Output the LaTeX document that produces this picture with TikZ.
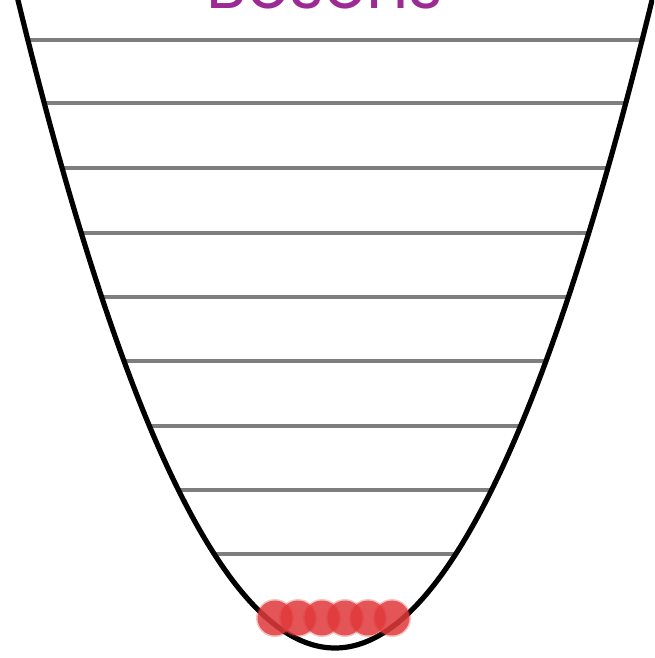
\documentclass[tikz,border=0pt]{standalone}
\usepackage{fontspec}
\newfontfamily\titlefont{Poppins}
\usetikzlibrary{positioning}
\definecolor{bosonpurple}{HTML}{9B2A94}
\definecolor{levelgray}{HTML}{7E7E7E}
\definecolor{bosonred}{HTML}{E0393B}

\begin{document}
\begin{tikzpicture}[
    x=1pt, y=-1pt, % coordenadas en "pixeles", y hacia abajo
    % Estilos
    well/.style={line width=5.2pt, color=black, line cap=round},
    level/.style={line width=3.2pt, color=levelgray},
    boson/.style={
        circle, fill=bosonred, fill opacity=0.8,
        minimum size=35pt, inner sep=0pt
    },
    halo/.style={
        circle, fill=bosonred, fill opacity=0.3,
        minimum size=38pt, inner sep=0pt
    },
    title/.style={
        font=\titlefont\fontsize{66}{66}\selectfont,
        text=bosonpurple, anchor=base
    }
]
    \useasboundingbox (0,0) rectangle (654,658);
    \clip (0,0) rectangle (654,658);

    % 1. Titulo (cortado arriba)
    \node[title] (title) at (325,9) {Bosons};

    % 2. Niveles de energia
    \foreach \ly in {40,103,168,233,297,361,426,490,554} {
        \pgfmathsetmacro{\hw}{12.45*sqrt(648-\ly)-1.5}
        \draw[level] (335-\hw,\ly) -- (335+\hw,\ly);
    }

    % 3. Pozo parabolico
    \draw[well] plot[domain=-1:1, samples=120, smooth]
        ({335+320*\x},{648-660*\x*\x});

    % 4. Bosones en el estado base
    \foreach \i/\bx in {1/275,2/298,3/322,4/345,5/368,6/392} {
        \node[halo]  (h\i) at (\bx,618) {};
        \node[boson] (b\i) at (\bx,618) {};
    }

\end{tikzpicture}
\end{document}
